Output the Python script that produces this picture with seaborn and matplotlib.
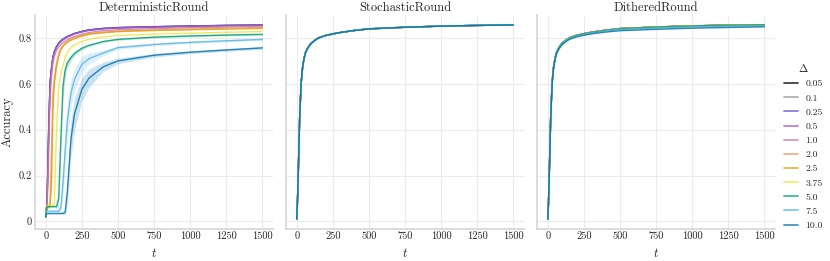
import numpy as np
import pandas as pd
import matplotlib
matplotlib.use("Agg")
import matplotlib.pyplot as plt
from matplotlib.lines import Line2D
import seaborn as sns

# ---------------- data ----------------
methods = ["DeterministicRound", "StochasticRound", "DitheredRound"]
deltas = ["0.05", "0.1", "0.25", "0.5", "1.0", "2.0", "2.5", "3.75", "5.0", "7.5", "10.0"]
colors = ["#000000", "#999999", "#6a4fd8", "#a855c8", "#cc79a7", "#ee9a6a",
          "#e69f00", "#f0e442", "#009e73", "#56b4e9", "#0072b2"]

t_det = [0, 5, 10, 20, 30, 40, 50, 60, 75, 90, 105, 120, 135, 150, 175, 200,
         250, 300, 400, 500, 750, 1000, 1250, 1500]
det_005 = [0.02, 0.05, 0.10, 0.38, 0.60, 0.665, 0.715, 0.74, 0.762, 0.777, 0.787, 0.795, 0.80, 0.806, 0.813, 0.82, 0.828, 0.835, 0.842, 0.845, 0.849, 0.852, 0.855, 0.857]
det_01 = [0.02, 0.05, 0.10, 0.37, 0.60, 0.665, 0.714, 0.74, 0.761, 0.776, 0.786, 0.794, 0.80, 0.805, 0.812, 0.819, 0.828, 0.835, 0.841, 0.845, 0.849, 0.852, 0.855, 0.857]
det_025 = [0.02, 0.05, 0.11, 0.39, 0.61, 0.668, 0.716, 0.742, 0.763, 0.778, 0.788, 0.796, 0.801, 0.807, 0.814, 0.82, 0.829, 0.836, 0.842, 0.846, 0.85, 0.853, 0.855, 0.857]
det_05 = [0.02, 0.05, 0.09, 0.35, 0.59, 0.66, 0.71, 0.737, 0.759, 0.774, 0.784, 0.792, 0.798, 0.804, 0.811, 0.818, 0.826, 0.833, 0.84, 0.843, 0.847, 0.85, 0.853, 0.855]
det_1 = [0.02, 0.05, 0.07, 0.27, 0.53, 0.63, 0.69, 0.72, 0.745, 0.76, 0.772, 0.78, 0.787, 0.793, 0.80, 0.807, 0.816, 0.824, 0.832, 0.836, 0.841, 0.845, 0.848, 0.851]
det_2 = [0.02, 0.05, 0.06, 0.06, 0.08, 0.30, 0.55, 0.63, 0.69, 0.73, 0.755, 0.768, 0.778, 0.786, 0.795, 0.803, 0.812, 0.819, 0.826, 0.83, 0.835, 0.839, 0.843, 0.846]
det_25 = [0.02, 0.05, 0.06, 0.06, 0.07, 0.15, 0.48, 0.60, 0.672, 0.72, 0.748, 0.763, 0.773, 0.781, 0.79, 0.797, 0.808, 0.816, 0.823, 0.828, 0.833, 0.836, 0.839, 0.842]
det_375 = [0.02, 0.05, 0.07, 0.07, 0.07, 0.07, 0.07, 0.08, 0.40, 0.58, 0.645, 0.68, 0.715, 0.74, 0.758, 0.77, 0.785, 0.795, 0.805, 0.811, 0.817, 0.821, 0.825, 0.828]
det_5 = [0.02, 0.05, 0.065, 0.065, 0.065, 0.065, 0.065, 0.065, 0.065, 0.10, 0.36, 0.59, 0.66, 0.69, 0.714, 0.733, 0.755, 0.768, 0.785, 0.794, 0.804, 0.809, 0.813, 0.816]
det_75 = [0.02, 0.045, 0.045, 0.045, 0.045, 0.045, 0.045, 0.045, 0.045, 0.045, 0.06, 0.17, 0.31, 0.44, 0.56, 0.62, 0.685, 0.71, 0.735, 0.758, 0.772, 0.781, 0.788, 0.794]
det_10 = [0.02, 0.035, 0.035, 0.035, 0.035, 0.035, 0.035, 0.035, 0.035, 0.035, 0.035, 0.035, 0.04, 0.13, 0.36, 0.47, 0.575, 0.625, 0.675, 0.70, 0.725, 0.738, 0.748, 0.757]

# half-widths of the shaded bands (DeterministicRound)
band_5 = [0.0, 0.003, 0.004, 0.004, 0.004, 0.004, 0.004, 0.004, 0.01, 0.03, 0.08, 0.05, 0.03, 0.02, 0.015, 0.01, 0.008, 0.006, 0.005, 0.004, 0.004, 0.004, 0.004, 0.004]
band_75 = [0.0, 0.003, 0.003, 0.003, 0.003, 0.003, 0.003, 0.003, 0.003, 0.005, 0.02, 0.06, 0.08, 0.08, 0.06, 0.05, 0.035, 0.025, 0.012, 0.008, 0.006, 0.005, 0.005, 0.005]
band_10 = [0.0, 0.003, 0.003, 0.003, 0.003, 0.003, 0.003, 0.003, 0.003, 0.003, 0.003, 0.004, 0.01, 0.06, 0.08, 0.07, 0.05, 0.04, 0.02, 0.012, 0.008, 0.006, 0.006, 0.006]

t_rnd = [0, 5, 10, 20, 30, 40, 50, 60, 75, 90, 100, 125, 150, 175, 200, 250,
         300, 400, 500, 750, 1000, 1250, 1500]
sto_acc = [0.01, 0.09, 0.2, 0.45, 0.6, 0.67, 0.71, 0.735, 0.755, 0.77, 0.777, 0.79, 0.8, 0.806, 0.811, 0.818, 0.824, 0.833, 0.84, 0.847, 0.852, 0.855, 0.857]
dith_acc = [0.01, 0.09, 0.21, 0.46, 0.61, 0.675, 0.712, 0.737, 0.757, 0.771, 0.778, 0.791, 0.801, 0.807, 0.812, 0.819, 0.825, 0.834, 0.841, 0.848, 0.853, 0.856, 0.858]
dith_acc_75 = [0.01, 0.09, 0.2, 0.455, 0.605, 0.67, 0.709, 0.734, 0.754, 0.768, 0.775, 0.788, 0.798, 0.804, 0.809, 0.816, 0.822, 0.831, 0.837, 0.843, 0.848, 0.851, 0.853]
dith_acc_10 = [0.01, 0.09, 0.2, 0.45, 0.6, 0.668, 0.706, 0.73, 0.75, 0.764, 0.771, 0.784, 0.794, 0.8, 0.805, 0.812, 0.818, 0.826, 0.832, 0.838, 0.843, 0.846, 0.849]

x_ticks = [0, 250, 500, 750, 1000, 1250, 1500]
y_ticks = [0, 0.2, 0.4, 0.6, 0.8]
y_tick_labels = ["0", "0.2", "0.4", "0.6", "0.8"]

det_series = [det_005, det_01, det_025, det_05, det_1, det_2, det_25, det_375, det_5, det_75, det_10]
sto_series = [sto_acc] * 11
dith_series = [dith_acc] * 9 + [dith_acc_75, dith_acc_10]
bands = {"5.0": band_5, "7.5": band_75, "10.0": band_10}

rows = []
for m, tt, series in [(methods[0], t_det, det_series),
                      (methods[1], t_rnd, sto_series),
                      (methods[2], t_rnd, dith_series)]:
    for d, vals in zip(deltas, series):
        for ti, v in zip(tt, vals):
            rows.append((m, d, ti, v))
df = pd.DataFrame(rows, columns=["method", "delta", "t", "acc"])

# ---------------- style ----------------
sns.set_theme(style="whitegrid")
plt.rcParams["font.family"] = ["cmr10", "DejaVu Serif"]
plt.rcParams["mathtext.fontset"] = "cm"
plt.rcParams["axes.formatter.use_mathtext"] = True
plt.rcParams["axes.unicode_minus"] = False

palette = dict(zip(deltas, colors))

fig, axes = plt.subplots(1, 3, figsize=(8.30, 2.61), dpi=100, sharey=True)
fig.subplots_adjust(left=0.042, right=0.934, bottom=0.123, top=0.9425, wspace=0.054)

for ax, m in zip(axes, methods):
    sub = df[df.method == m]
    sns.lineplot(data=sub, x="t", y="acc", hue="delta", hue_order=deltas,
                 palette=palette, ax=ax, legend=False, linewidth=1.0, alpha=0.85)
    if m == methods[0]:
        for d, b in bands.items():
            vals = np.array(det_series[deltas.index(d)])
            bb = np.array(b)
            ax.fill_between(t_det, vals - bb, vals + bb, color=palette[d],
                            alpha=0.2, linewidth=0)
    ax.set_title(m, fontsize=9, pad=3)
    ax.set_xlabel(r"$t$", fontsize=9)
    ax.set_xticks(x_ticks)
    ax.set_xticklabels([str(v) for v in x_ticks])
    ax.tick_params(axis="both", labelsize=7.5, pad=2, length=0)
    ax.grid(color="#ebebeb", linewidth=0.8)
    for s in ["top", "right"]:
        ax.spines[s].set_visible(False)
    for s in ["left", "bottom"]:
        ax.spines[s].set_color("#d5d5d5")
        ax.spines[s].set_linewidth(1.2)

axes[0].set_ylabel("Accuracy", fontsize=9)
axes[0].set_yticks(y_ticks)
axes[0].set_yticklabels(y_tick_labels)
for ax in axes[1:]:
    ax.set_ylabel("")
    ax.tick_params(axis="y", labelleft=False)

handles = [Line2D([0], [0], color=c, lw=1.3, alpha=0.75) for c in colors]
fig.legend(handles, deltas, title=r"$\Delta$", loc="center left",
           bbox_to_anchor=(0.934, 0.44), frameon=False, fontsize=7,
           title_fontsize=8, handlelength=1.4, handletextpad=0.8,
           labelspacing=0.55)

fig.savefig("out.png", dpi=100)
